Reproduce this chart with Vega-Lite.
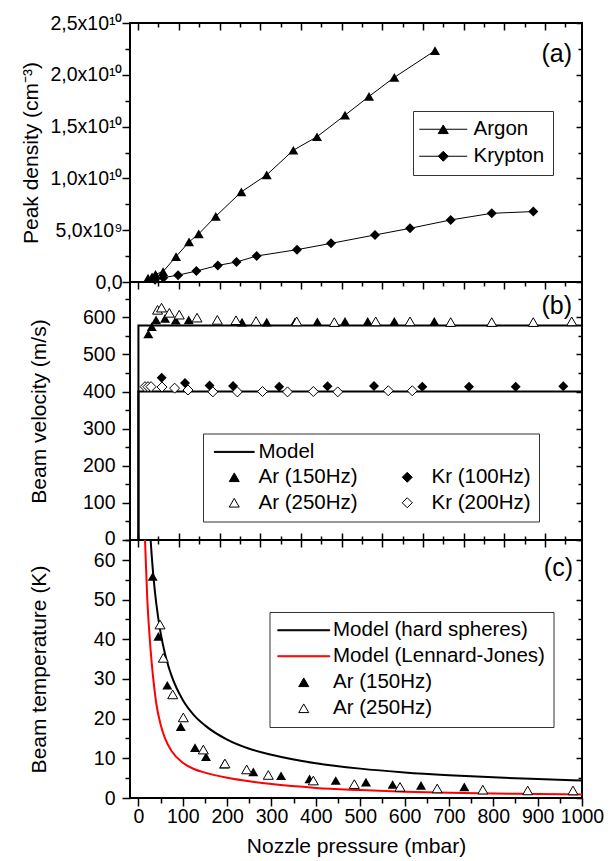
{
  "$schema": "https://vega.github.io/schema/vega-lite/v6.json",
  "padding": {"left": 18, "top": 12, "right": 5, "bottom": 4},
  "spacing": 0,
  "bounds": "flush",
  "config": {
    "font": "Liberation Sans",
    "view": {"stroke": "black", "strokeWidth": 2},
    "axis": {"grid": false, "domain": false, "tickColor": "black", "tickWidth": 1.5, "labelColor": "black", "titleColor": "black", "labelFont": "Liberation Sans", "titleFont": "Liberation Sans", "labelFontSize": 19.5, "titleFontSize": 21, "titleFontWeight": "normal", "labelOverlap": false, "labelFlush": false, "labelBound": false},
    "legend": {"labelFont": "Liberation Sans", "labelFontSize": 20.5, "labelColor": "black", "strokeColor": "#333", "fillColor": "white", "labelLimit": 500, "symbolStrokeWidth": 1},
    "title": {"font": "Liberation Sans", "fontSize": 25, "fontWeight": "normal", "color": "black"}
  },
  "datasets": {
    "a_argon": [
      {"p": 21.6, "n": 370000000}, {"p": 30.7, "n": 510000000}, {"p": 38.5, "n": 750000000}, {"p": 55.5, "n": 1000000000},
      {"p": 84.8, "n": 2450000000}, {"p": 114.1, "n": 3870000000}, {"p": 135.9, "n": 4640000000}, {"p": 174.3, "n": 6340000000},
      {"p": 232.0, "n": 8700000000}, {"p": 289.2, "n": 10340000000}, {"p": 349.2, "n": 12720000000}, {"p": 402.6, "n": 14020000000},
      {"p": 465.7, "n": 16100000000}, {"p": 519.8, "n": 17910000000}, {"p": 576.9, "n": 19750000000}, {"p": 668.6, "n": 22330000000}
    ],
    "a_krypton": [
      {"p": 37.4, "n": 220000000}, {"p": 56.1, "n": 420000000}, {"p": 89.3, "n": 660000000}, {"p": 130.7, "n": 1060000000},
      {"p": 179.0, "n": 1600000000}, {"p": 221.1, "n": 1930000000}, {"p": 266.5, "n": 2510000000}, {"p": 357.5, "n": 3120000000},
      {"p": 434.2, "n": 3730000000}, {"p": 533.4, "n": 4540000000}, {"p": 612.3, "n": 5180000000}, {"p": 704.0, "n": 5990000000},
      {"p": 796.5, "n": 6630000000}, {"p": 890.2, "n": 6800000000}
    ],
    "b_model": [
      {"gas": "Ar", "i": 0, "p": 0, "v": 0}, {"gas": "Ar", "i": 1, "p": 0, "v": 578}, {"gas": "Ar", "i": 2, "p": 1000, "v": 578},
      {"gas": "Kr", "i": 0, "p": 0, "v": 0}, {"gas": "Kr", "i": 1, "p": 0, "v": 400}, {"gas": "Kr", "i": 2, "p": 1000, "v": 400}
    ],
    "b_pts": [
      {"s": "Ar (150Hz)", "p": 22.3, "v": 555}, {"s": "Ar (150Hz)", "p": 30.0, "v": 575}, {"s": "Ar (150Hz)", "p": 39.7, "v": 593},
      {"s": "Ar (150Hz)", "p": 60.0, "v": 597}, {"s": "Ar (150Hz)", "p": 84.1, "v": 592}, {"s": "Ar (150Hz)", "p": 113.4, "v": 593},
      {"s": "Ar (150Hz)", "p": 233.5, "v": 587}, {"s": "Ar (150Hz)", "p": 289.2, "v": 587}, {"s": "Ar (150Hz)", "p": 353.0, "v": 588},
      {"s": "Ar (150Hz)", "p": 403.3, "v": 588}, {"s": "Ar (150Hz)", "p": 465.7, "v": 589}, {"s": "Ar (150Hz)", "p": 516.9, "v": 589},
      {"s": "Ar (150Hz)", "p": 576.9, "v": 589}, {"s": "Ar (150Hz)", "p": 667.0, "v": 589},
      {"s": "Ar (250Hz)", "p": 43.1, "v": 620}, {"s": "Ar (250Hz)", "p": 52.1, "v": 626}, {"s": "Ar (250Hz)", "p": 69.7, "v": 612},
      {"s": "Ar (250Hz)", "p": 92.0, "v": 607}, {"s": "Ar (250Hz)", "p": 132.1, "v": 599}, {"s": "Ar (250Hz)", "p": 177.9, "v": 593},
      {"s": "Ar (250Hz)", "p": 220.0, "v": 592}, {"s": "Ar (250Hz)", "p": 265.1, "v": 590}, {"s": "Ar (250Hz)", "p": 356.9, "v": 589},
      {"s": "Ar (250Hz)", "p": 441.6, "v": 587}, {"s": "Ar (250Hz)", "p": 534.9, "v": 589}, {"s": "Ar (250Hz)", "p": 612.3, "v": 589},
      {"s": "Ar (250Hz)", "p": 704.0, "v": 587}, {"s": "Ar (250Hz)", "p": 796.5, "v": 587}, {"s": "Ar (250Hz)", "p": 890.2, "v": 587},
      {"s": "Ar (250Hz)", "p": 976.8, "v": 589},
      {"s": "Kr (100Hz)", "p": 52.5, "v": 437}, {"s": "Kr (100Hz)", "p": 105.0, "v": 423}, {"s": "Kr (100Hz)", "p": 160.3, "v": 416},
      {"s": "Kr (100Hz)", "p": 213.3, "v": 415}, {"s": "Kr (100Hz)", "p": 317.4, "v": 413}, {"s": "Kr (100Hz)", "p": 426.3, "v": 414},
      {"s": "Kr (100Hz)", "p": 531.1, "v": 415}, {"s": "Kr (100Hz)", "p": 640.0, "v": 413}, {"s": "Kr (100Hz)", "p": 745.3, "v": 413},
      {"s": "Kr (100Hz)", "p": 850.5, "v": 413}, {"s": "Kr (100Hz)", "p": 957.8, "v": 414},
      {"s": "Kr (200Hz)", "p": 14.9, "v": 413}, {"s": "Kr (200Hz)", "p": 21.6, "v": 413}, {"s": "Kr (200Hz)", "p": 28.4, "v": 413},
      {"s": "Kr (200Hz)", "p": 53.2, "v": 412}, {"s": "Kr (200Hz)", "p": 81.6, "v": 409}, {"s": "Kr (200Hz)", "p": 111.8, "v": 404},
      {"s": "Kr (200Hz)", "p": 167.7, "v": 399}, {"s": "Kr (200Hz)", "p": 223.0, "v": 399}, {"s": "Kr (200Hz)", "p": 279.8, "v": 400},
      {"s": "Kr (200Hz)", "p": 336.1, "v": 399}, {"s": "Kr (200Hz)", "p": 394.3, "v": 400}, {"s": "Kr (200Hz)", "p": 449.3, "v": 399},
      {"s": "Kr (200Hz)", "p": 563.3, "v": 402}, {"s": "Kr (200Hz)", "p": 617.4, "v": 402}
    ],
    "c_model": [
      {"m": "Model (hard spheres)", "p": 27.5, "t": 65}, {"m": "Model (hard spheres)", "p": 30, "t": 61}, {"m": "Model (hard spheres)", "p": 35, "t": 54.4},
      {"m": "Model (hard spheres)", "p": 40, "t": 49.2}, {"m": "Model (hard spheres)", "p": 50, "t": 41.6}, {"m": "Model (hard spheres)", "p": 60, "t": 36.3},
      {"m": "Model (hard spheres)", "p": 75, "t": 30.7}, {"m": "Model (hard spheres)", "p": 100, "t": 24.7}, {"m": "Model (hard spheres)", "p": 125, "t": 20.9},
      {"m": "Model (hard spheres)", "p": 150, "t": 18.3}, {"m": "Model (hard spheres)", "p": 200, "t": 14.7}, {"m": "Model (hard spheres)", "p": 250, "t": 12.4},
      {"m": "Model (hard spheres)", "p": 300, "t": 10.9}, {"m": "Model (hard spheres)", "p": 400, "t": 8.75}, {"m": "Model (hard spheres)", "p": 500, "t": 7.4},
      {"m": "Model (hard spheres)", "p": 600, "t": 6.45}, {"m": "Model (hard spheres)", "p": 700, "t": 5.75}, {"m": "Model (hard spheres)", "p": 800, "t": 5.2},
      {"m": "Model (hard spheres)", "p": 900, "t": 4.76}, {"m": "Model (hard spheres)", "p": 1000, "t": 4.4},
      {"m": "Model (Lennard-Jones)", "p": 14.8, "t": 65}, {"m": "Model (Lennard-Jones)", "p": 20, "t": 50}, {"m": "Model (Lennard-Jones)", "p": 25, "t": 41},
      {"m": "Model (Lennard-Jones)", "p": 30, "t": 34}, {"m": "Model (Lennard-Jones)", "p": 35, "t": 28.5}, {"m": "Model (Lennard-Jones)", "p": 40, "t": 24},
      {"m": "Model (Lennard-Jones)", "p": 50, "t": 18.5}, {"m": "Model (Lennard-Jones)", "p": 60, "t": 15}, {"m": "Model (Lennard-Jones)", "p": 75, "t": 11.8},
      {"m": "Model (Lennard-Jones)", "p": 100, "t": 8.9}, {"m": "Model (Lennard-Jones)", "p": 125, "t": 7.3}, {"m": "Model (Lennard-Jones)", "p": 150, "t": 6.4},
      {"m": "Model (Lennard-Jones)", "p": 200, "t": 5.1}, {"m": "Model (Lennard-Jones)", "p": 250, "t": 4.2}, {"m": "Model (Lennard-Jones)", "p": 300, "t": 3.5},
      {"m": "Model (Lennard-Jones)", "p": 400, "t": 2.55}, {"m": "Model (Lennard-Jones)", "p": 500, "t": 2.0}, {"m": "Model (Lennard-Jones)", "p": 600, "t": 1.55},
      {"m": "Model (Lennard-Jones)", "p": 700, "t": 1.3}, {"m": "Model (Lennard-Jones)", "p": 800, "t": 1.15}, {"m": "Model (Lennard-Jones)", "p": 900, "t": 1.0},
      {"m": "Model (Lennard-Jones)", "p": 1000, "t": 0.9}
    ],
    "c_pts": [
      {"s": "Ar (150Hz)", "p": 32.2, "t": 55.8}, {"s": "Ar (150Hz)", "p": 44.9, "t": 40.7}, {"s": "Ar (150Hz)", "p": 65.1, "t": 28.4},
      {"s": "Ar (150Hz)", "p": 95.4, "t": 18.0}, {"s": "Ar (150Hz)", "p": 127.6, "t": 12.7}, {"s": "Ar (150Hz)", "p": 152.4, "t": 10.4},
      {"s": "Ar (150Hz)", "p": 193.0, "t": 8.5}, {"s": "Ar (150Hz)", "p": 259.0, "t": 6.6}, {"s": "Ar (150Hz)", "p": 321.5, "t": 5.6},
      {"s": "Ar (150Hz)", "p": 385.7, "t": 4.8}, {"s": "Ar (150Hz)", "p": 444.8, "t": 4.4}, {"s": "Ar (150Hz)", "p": 513.0, "t": 4.0},
      {"s": "Ar (150Hz)", "p": 573.0, "t": 3.4}, {"s": "Ar (150Hz)", "p": 637.0, "t": 3.2}, {"s": "Ar (150Hz)", "p": 734.7, "t": 2.8},
      {"s": "Ar (250Hz)", "p": 48.7, "t": 43.7}, {"s": "Ar (250Hz)", "p": 56.1, "t": 35.3}, {"s": "Ar (250Hz)", "p": 77.3, "t": 26.1},
      {"s": "Ar (250Hz)", "p": 101.2, "t": 20.3}, {"s": "Ar (250Hz)", "p": 146.3, "t": 12.2}, {"s": "Ar (250Hz)", "p": 195.0, "t": 8.7},
      {"s": "Ar (250Hz)", "p": 244.0, "t": 7.2}, {"s": "Ar (250Hz)", "p": 292.8, "t": 5.8}, {"s": "Ar (250Hz)", "p": 394.3, "t": 4.4},
      {"s": "Ar (250Hz)", "p": 486.7, "t": 3.5}, {"s": "Ar (250Hz)", "p": 589.7, "t": 2.8}, {"s": "Ar (250Hz)", "p": 673.6, "t": 2.4},
      {"s": "Ar (250Hz)", "p": 776.4, "t": 2.1}, {"s": "Ar (250Hz)", "p": 877.6, "t": 1.9}, {"s": "Ar (250Hz)", "p": 979.7, "t": 1.9}
    ]
  },
  "vconcat": [
    {
      "width": 452, "height": 259,
      "title": {"text": "(a)", "anchor": "end", "orient": "top", "frame": "group", "offset": -54, "dx": -10},
      "layer": [
        {
          "encoding": {
            "x": {"field": "p", "type": "quantitative", "scale": {"domain": [-19, 1000], "nice": false, "zero": false}, "axis": null},
            "y": {"field": "n", "type": "quantitative", "scale": {"domain": [0, 25000000000], "nice": false, "zero": false},
              "axis": {"orient": "left", "title": "Peak density (cm⁻³)", "titleX": -89,
                "values": [0, 2500000000, 5000000000, 7500000000, 10000000000, 12500000000, 15000000000, 17500000000, 20000000000, 22500000000, 25000000000],
                "tickSize": {"condition": {"test": "round(datum.value/2500000000) % 2 == 0", "value": 8}, "value": 5},
                "labelPadding": 0,
                "labelExpr": "round(datum.value/2500000000) % 2 != 0 ? '' : datum.value == 0 ? '0,0' : datum.value < 9000000000 ? replace(format(datum.value/1000000000, '.1f'), '.', ',') + 'x10⁹' : replace(format(datum.value/10000000000, '.1f'), '.', ',') + 'x10¹⁰'"}}
          },
          "layer": [
            {"data": {"name": "a_argon"}, "mark": {"type": "line", "color": "black", "strokeWidth": 1}},
            {"data": {"name": "a_argon"}, "mark": {"type": "point", "shape": "triangle-up", "filled": true, "color": "black", "size": 100, "opacity": 1}},
            {"data": {"name": "a_krypton"}, "mark": {"type": "line", "color": "black", "strokeWidth": 1}},
            {"data": {"name": "a_krypton"}, "mark": {"type": "point", "shape": "diamond", "filled": true, "color": "black", "size": 100, "opacity": 1}},
            {"data": {"values": []}, "mark": {"type": "point", "filled": true, "size": 100, "opacity": 1, "strokeWidth": 1},
              "encoding": {
                "shape": {"field": "g", "type": "nominal",
                  "scale": {"domain": ["Argon", "Krypton"], "range": ["M-4.8,0H4.8M0,-0.866L1,0.866L-1,0.866Z", "M-4.8,0H4.8M0,-1L1,0L0,1L-1,0Z"]},
                  "legend": {"title": null, "orient": "none", "legendX": 283, "legendY": 88, "padding": 8, "symbolOffset": 12, "labelOffset": 20, "symbolSize": 100, "rowPadding": 6}},
                "fill": {"field": "g", "type": "nominal",
                  "scale": {"domain": ["Argon", "Krypton"], "range": ["black", "black"]},
                  "legend": {"title": null, "orient": "none", "legendX": 283, "legendY": 88, "padding": 8, "symbolOffset": 12, "labelOffset": 20, "symbolSize": 100, "rowPadding": 6}},
                "stroke": {"field": "g", "type": "nominal",
                  "scale": {"domain": ["Argon", "Krypton"], "range": ["black", "black"]},
                  "legend": {"title": null, "orient": "none", "legendX": 283, "legendY": 88, "padding": 8, "symbolOffset": 12, "labelOffset": 20, "symbolSize": 100, "rowPadding": 6}}
              }}
          ]
        },
        {
          "data": {"values": []}, "mark": {"type": "point", "opacity": 0},
          "encoding": {
            "x": {"field": "p", "type": "quantitative", "scale": {"domain": [-20, 1091], "nice": false, "zero": false},
              "axis": {"orient": "top", "title": null, "labels": false, "values": [0, 50, 100, 150, 200, 250, 300, 350, 400, 450, 500, 550, 600, 650, 700, 750, 800, 850, 900, 950, 1000, 1050],
                "tickSize": {"condition": {"test": "datum.value % 100 == 0", "value": -7}, "value": -4}}},
            "y": {"field": "n", "type": "quantitative", "scale": {"domain": [0, 25000000000], "nice": false, "zero": false},
              "axis": {"orient": "right", "title": null, "labels": false,
                "values": [0, 2500000000, 5000000000, 7500000000, 10000000000, 12500000000, 15000000000, 17500000000, 20000000000, 22500000000, 25000000000],
                "tickSize": {"condition": {"test": "round(datum.value/2500000000) % 2 == 0", "value": -6}, "value": -4}}}
          }
        }
      ],
      "resolve": {"scale": {"x": "independent", "y": "independent"}, "axis": {"x": "independent", "y": "independent"}}
    },
    {
      "width": 452, "height": 258,
      "title": {"text": "(b)", "anchor": "end", "orient": "top", "frame": "group", "offset": -37.5, "dx": -10},
      "layer": [
        {
          "encoding": {
            "x": {"field": "p", "type": "quantitative", "scale": {"domain": [-19, 1000], "nice": false, "zero": false}, "axis": null},
            "y": {"field": "v", "type": "quantitative", "scale": {"domain": [0, 695], "nice": false, "zero": false},
              "axis": {"orient": "left", "title": "Beam velocity (m/s)", "titleX": -81,
                "values": [0, 50, 100, 150, 200, 250, 300, 350, 400, 450, 500, 550, 600, 650],
                "tickSize": {"condition": {"test": "datum.value % 100 == 0", "value": 8}, "value": 5},
                "labelPadding": 7,
                "labelOffset": {"condition": {"test": "datum.value == 0", "value": -2}, "value": 0},
                "labelExpr": "datum.value % 100 == 0 ? format(datum.value, 'd') : ''"}}
          },
          "layer": [
            {"data": {"name": "b_model"}, "mark": {"type": "line", "color": "black", "strokeWidth": 2}, "encoding": {"detail": {"field": "gas"}, "order": {"field": "i", "type": "quantitative"}}},
            {"data": {"name": "b_pts"}, "transform": [{"filter": "datum.s == 'Ar (150Hz)'"}], "mark": {"type": "point", "shape": "triangle-up", "filled": true, "color": "black", "size": 100, "opacity": 1}},
            {"data": {"name": "b_pts"}, "transform": [{"filter": "datum.s == 'Ar (250Hz)'"}], "mark": {"type": "point", "shape": "triangle-up", "filled": true, "fill": "white", "stroke": "black", "strokeWidth": 1, "size": 100, "opacity": 1}},
            {"data": {"name": "b_pts"}, "transform": [{"filter": "datum.s == 'Kr (100Hz)'"}], "mark": {"type": "point", "shape": "diamond", "filled": true, "color": "black", "size": 100, "opacity": 1}},
            {"data": {"name": "b_pts"}, "transform": [{"filter": "datum.s == 'Kr (200Hz)'"}], "mark": {"type": "point", "shape": "diamond", "filled": true, "fill": "white", "stroke": "black", "strokeWidth": 1, "size": 100, "opacity": 1}},
            {"data": {"values": []}, "mark": {"type": "point", "filled": true, "strokeWidth": 1, "size": 100, "opacity": 1},
              "encoding": {
                "shape": {"field": "s", "type": "nominal",
                  "scale": {"domain": ["Model", "Ar (150Hz)", "Ar (250Hz)", "blank", "Kr (100Hz)", "Kr (200Hz)"],
                    "range": ["M-4,-0.1H4V0.1H-4Z", "M0,-0.866L1,0.866L-1,0.866Z", "M0,-0.866L1,0.866L-1,0.866Z", "M0,0", "M0,-1L1,0L0,1L-1,0Z", "M0,-1L1,0L0,1L-1,0Z"]},
                  "legend": {"title": null, "orient": "none", "legendX": 73, "legendY": 151.5, "padding": 8, "columns": 2, "columnPadding": 26, "symbolOffset": 13, "labelOffset": 14, "symbolSize": 100, "rowPadding": 4.5, "labelExpr": "datum.label == 'blank' ? '' : datum.label"}},
                "fill": {"field": "s", "type": "nominal",
                  "scale": {"domain": ["Model", "Ar (150Hz)", "Ar (250Hz)", "blank", "Kr (100Hz)", "Kr (200Hz)"], "range": ["black", "black", "white", "white", "black", "white"]},
                  "legend": {"title": null, "orient": "none", "legendX": 73, "legendY": 151.5, "padding": 8, "columns": 2, "columnPadding": 26, "symbolOffset": 13, "labelOffset": 14, "symbolSize": 100, "rowPadding": 4.5, "labelExpr": "datum.label == 'blank' ? '' : datum.label"}},
                "stroke": {"field": "s", "type": "nominal",
                  "scale": {"domain": ["Model", "Ar (150Hz)", "Ar (250Hz)", "blank", "Kr (100Hz)", "Kr (200Hz)"], "range": ["black", "black", "black", "transparent", "black", "black"]},
                  "legend": {"title": null, "orient": "none", "legendX": 73, "legendY": 151.5, "padding": 8, "columns": 2, "columnPadding": 26, "symbolOffset": 13, "labelOffset": 14, "symbolSize": 100, "rowPadding": 4.5, "labelExpr": "datum.label == 'blank' ? '' : datum.label"}}
              }}
          ]
        },
        {
          "data": {"values": []}, "mark": {"type": "point", "opacity": 0},
          "encoding": {
            "x": {"field": "p", "type": "quantitative", "scale": {"domain": [-20, 1091], "nice": false, "zero": false},
              "axis": {"orient": "top", "title": null, "labels": false, "values": [0, 50, 100, 150, 200, 250, 300, 350, 400, 450, 500, 550, 600, 650, 700, 750, 800, 850, 900, 950, 1000, 1050],
                "tickSize": {"condition": {"test": "datum.value % 100 == 0", "value": -7}, "value": -4}}},
            "y": {"field": "v", "type": "quantitative", "scale": {"domain": [0, 695], "nice": false, "zero": false},
              "axis": {"orient": "right", "title": null, "labels": false, "values": [0, 50, 100, 150, 200, 250, 300, 350, 400, 450, 500, 550, 600, 650],
                "tickSize": {"condition": {"test": "datum.value % 100 == 0", "value": -6}, "value": -4}}}
          }
        },
        {
          "data": {"values": []}, "mark": {"type": "point", "opacity": 0},
          "encoding": {
            "x": {"field": "p", "type": "quantitative", "scale": {"domain": [-20, 1091], "nice": false, "zero": false},
              "axis": {"orient": "bottom", "title": null, "labels": false, "values": [0, 50, 100, 150, 200, 250, 300, 350, 400, 450, 500, 550, 600, 650, 700, 750, 800, 850, 900, 950, 1000, 1050],
                "tickSize": {"condition": {"test": "datum.value % 100 == 0", "value": -7}, "value": -4}}}
          }
        }
      ],
      "resolve": {"scale": {"x": "independent", "y": "independent"}, "axis": {"x": "independent", "y": "independent"}}
    },
    {
      "width": 452, "height": 258,
      "title": {"text": "(c)", "anchor": "end", "orient": "top", "frame": "group", "offset": -51, "dx": -9},
      "layer": [
        {
          "encoding": {
            "x": {"field": "p", "type": "quantitative", "scale": {"domain": [-19, 1000], "nice": false, "zero": false},
              "axis": {"orient": "bottom", "title": "Nozzle pressure (mbar)", "titlePadding": 10,
                "values": [0, 50, 100, 150, 200, 250, 300, 350, 400, 450, 500, 550, 600, 650, 700, 750, 800, 850, 900, 950, 1000],
                "tickSize": {"condition": {"test": "datum.value % 100 == 0", "value": 8}, "value": 5},
                "labelPadding": 1,
                "labelExpr": "datum.value % 100 == 0 ? format(datum.value, 'd') : ''"}},
            "y": {"field": "t", "type": "quantitative", "scale": {"domain": [0, 65], "nice": false, "zero": false},
              "axis": {"orient": "left", "title": "Beam temperature (K)", "titleX": -81,
                "values": [0, 5, 10, 15, 20, 25, 30, 35, 40, 45, 50, 55, 60, 65],
                "tickSize": {"condition": {"test": "datum.value % 10 == 0", "value": 8}, "value": 5},
                "labelPadding": 7,
                "labelOffset": {"condition": {"test": "datum.value == 60", "value": 1}, "value": 0},
                "labelExpr": "datum.value % 10 == 0 ? format(datum.value, 'd') : ''"}}
          },
          "layer": [
            {"data": {"name": "c_model"}, "transform": [{"filter": "datum.m == 'Model (hard spheres)'"}], "mark": {"type": "line", "color": "black", "strokeWidth": 2, "interpolate": "monotone", "clip": true}},
            {"data": {"name": "c_model"}, "transform": [{"filter": "datum.m == 'Model (Lennard-Jones)'"}], "mark": {"type": "line", "color": "#ff0000", "strokeWidth": 2, "interpolate": "monotone", "clip": true}},
            {"data": {"name": "c_pts"}, "transform": [{"filter": "datum.s == 'Ar (150Hz)'"}], "mark": {"type": "point", "shape": "triangle-up", "filled": true, "color": "black", "size": 100, "opacity": 1}},
            {"data": {"name": "c_pts"}, "transform": [{"filter": "datum.s == 'Ar (250Hz)'"}], "mark": {"type": "point", "shape": "triangle-up", "filled": true, "fill": "white", "stroke": "black", "strokeWidth": 1, "size": 100, "opacity": 1}},
            {"data": {"values": []}, "mark": {"type": "point", "filled": true, "size": 100, "opacity": 1, "strokeWidth": 1},
              "encoding": {
                "shape": {"field": "m", "type": "nominal",
                  "scale": {"domain": ["Model (hard spheres)", "Model (Lennard-Jones)", "Ar (150Hz)", "Ar (250Hz)"],
                    "range": ["M-5.2,-0.1H5.2V0.1H-5.2Z", "M-5.2,-0.1H5.2V0.1H-5.2Z", "M0,-0.866L1,0.866L-1,0.866Z", "M0,-0.866L1,0.866L-1,0.866Z"]},
                  "legend": {"title": null, "orient": "none", "legendX": 139.5, "legendY": 72, "padding": 8, "symbolOffset": 16, "labelOffset": 19, "symbolSize": 100, "rowPadding": 5}},
                "fill": {"field": "m", "type": "nominal",
                  "scale": {"domain": ["Model (hard spheres)", "Model (Lennard-Jones)", "Ar (150Hz)", "Ar (250Hz)"], "range": ["black", "#ff0000", "black", "white"]},
                  "legend": {"title": null, "orient": "none", "legendX": 139.5, "legendY": 72, "padding": 8, "symbolOffset": 16, "labelOffset": 19, "symbolSize": 100, "rowPadding": 5}},
                "stroke": {"field": "m", "type": "nominal",
                  "scale": {"domain": ["Model (hard spheres)", "Model (Lennard-Jones)", "Ar (150Hz)", "Ar (250Hz)"], "range": ["black", "#ff0000", "black", "black"]},
                  "legend": {"title": null, "orient": "none", "legendX": 139.5, "legendY": 72, "padding": 8, "symbolOffset": 16, "labelOffset": 19, "symbolSize": 100, "rowPadding": 5}}
              }}
          ]
        },
        {
          "data": {"values": []}, "mark": {"type": "point", "opacity": 0},
          "encoding": {
            "x": {"field": "p", "type": "quantitative", "scale": {"domain": [-20, 1091], "nice": false, "zero": false},
              "axis": {"orient": "top", "title": null, "labels": false, "values": [0, 50, 100, 150, 200, 250, 300, 350, 400, 450, 500, 550, 600, 650, 700, 750, 800, 850, 900, 950, 1000, 1050],
                "tickSize": {"condition": {"test": "datum.value % 100 == 0", "value": -7}, "value": -4}}},
            "y": {"field": "t", "type": "quantitative", "scale": {"domain": [0, 65], "nice": false, "zero": false},
              "axis": {"orient": "right", "title": null, "labels": false, "values": [0, 5, 10, 15, 20, 25, 30, 35, 40, 45, 50, 55, 60, 65],
                "tickSize": {"condition": {"test": "datum.value % 10 == 0", "value": -6}, "value": -4}}}
          }
        }
      ],
      "resolve": {"scale": {"x": "independent", "y": "independent"}, "axis": {"x": "independent", "y": "independent"}}
    }
  ],
  "resolve": {"scale": {"shape": "independent", "fill": "independent", "stroke": "independent"}, "legend": {"shape": "independent", "fill": "independent", "stroke": "independent"}}
}
